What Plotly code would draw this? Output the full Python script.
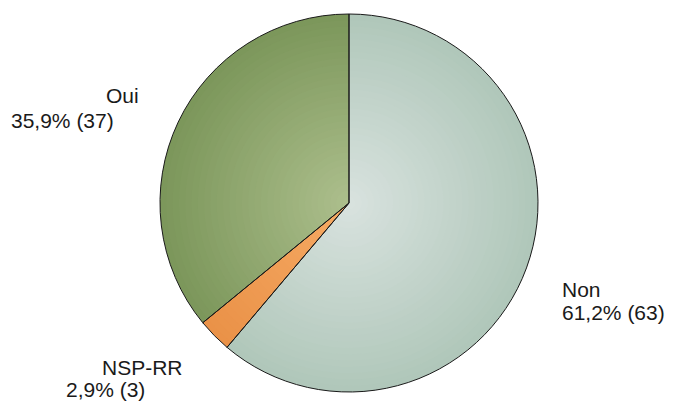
import plotly.graph_objects as go

labels = ["Non", "NSP-RR", "Oui"]
counts = [63, 3, 37]
pct_text = ["61,2% (63)", "2,9% (3)", "35,9% (37)"]

edge_colors = [(176, 199, 186), (234, 146, 72), (124, 151, 91)]
center_colors = [(216, 226, 222), (246, 170, 100), (172, 190, 140)]

W, H = 674, 407
cx, cy, R = 349, 203, 189

fig = go.Figure()
N = 30
for i in range(N):
    f = 1 - i / N
    t = i / (N - 1)
    cols = []
    for e, c in zip(edge_colors, center_colors):
        rgb = tuple(round(e[k] + (c[k] - e[k]) * t) for k in range(3))
        cols.append("rgb(%d,%d,%d)" % rgb)
    r = R * f
    fig.add_trace(go.Pie(
        labels=labels, values=counts, sort=False, direction="clockwise", rotation=0,
        marker=dict(colors=cols, line=dict(width=0)),
        textinfo="none", hoverinfo="skip", showlegend=False,
        domain=dict(x=[(cx - r) / W, (cx + r) / W], y=[1 - (cy + r) / H, 1 - (cy - r) / H]),
    ))
# outline layer
fig.add_trace(go.Pie(
    labels=labels, values=counts, sort=False, direction="clockwise", rotation=0,
    marker=dict(colors=["rgba(0,0,0,0)"] * 3, line=dict(color="#1a1a1a", width=1)),
    textinfo="none", hoverinfo="label+value", showlegend=False,
    domain=dict(x=[(cx - R) / W, (cx + R) / W], y=[1 - (cy + R) / H, 1 - (cy - R) / H]),
))

# label placements (pixel positions: left edge, vertical centre)
label_pos = {
    "Non": [(560, 289, labels[0]), (560, 312, pct_text[0])],
    "NSP-RR": [(100, 367, labels[1]), (64, 389, pct_text[1])],
    "Oui": [(104, 96, labels[2]), (9, 120, pct_text[2])],
}
for key, items in label_pos.items():
    for (x, y, txt) in items:
        fig.add_annotation(x=x / W, y=1 - y / H, xref="paper", yref="paper",
                           text=txt, showarrow=False, xanchor="left", yanchor="middle",
                           font=dict(family="Liberation Sans, Arial", size=21, color="#1a1a1a"))

fig.update_layout(width=W, height=H, margin=dict(l=0, r=0, t=0, b=0),
                  paper_bgcolor="white", plot_bgcolor="white")
fig.write_html("out.html")
